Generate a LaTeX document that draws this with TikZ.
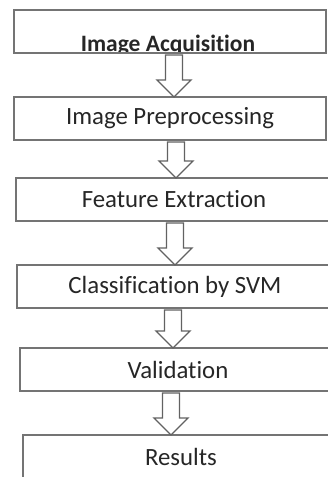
\documentclass[tikz,border=0pt]{standalone}
\usepackage{fontspec}
\setmainfont{Carlito}[Ligatures=NoCommon]
\usetikzlibrary{positioning,calc}

\definecolor{boxgray}{HTML}{747474}
\definecolor{arrowgray}{HTML}{626262}
\definecolor{inkgray}{HTML}{262626}

\tikzset{
	stage/.style={draw=boxgray, line width=1.6pt, minimum width=316pt, minimum height=43pt,
		inner sep=0pt, outer sep=0pt, text=inkgray, font=\fontsize{24.8}{28}\selectfont},
	hollow/.style={draw=arrowgray, line width=1.4pt, fill=white, line join=miter}
}

\begin{document}
\begin{tikzpicture}
	\useasboundingbox (0,0) rectangle (327pt,-477pt);
	\node[stage, minimum width=312pt, path picture={
		\node[anchor=base, text=inkgray, font=\fontsize{23.5}{28}\selectfont\bfseries](acqtext)
			at ($(path picture bounding box.south)+(-2pt,1.5pt)$) {Image Acquisition};}](acq) at (170pt,-31.5pt){};
	\node[stage, minimum width=312pt](pre)[below = 44pt of acq]{Image Preprocessing};
	\node[stage](feat)[below = 38pt of pre, xshift=4pt]{Feature Extraction};
	\node[stage](svm)[below = 44pt of feat, xshift=1pt]{Classification by SVM};
	\node[stage](val)[below = 40pt of svm, xshift=3pt]{Validation};
	\node[stage](res)[below = 44pt of val, xshift=3pt]{Results};
	\foreach \u/\v/\ax in {acq/pre/174, pre/feat/176, feat/svm/175, svm/val/173, val/res/171}
		\draw[hollow] let \p1=(\u.south), \p2=(\v.north) in
			(\ax pt-8.5pt,\y1-2pt) -- (\ax pt-8.5pt,\y2+17pt) -- (\ax pt-17pt,\y2+17pt)
			-- (\ax pt,\y2) -- (\ax pt+17pt,\y2+17pt) -- (\ax pt+8.5pt,\y2+17pt)
			-- (\ax pt+8.5pt,\y1-2pt) -- cycle;
\end{tikzpicture}
\end{document}
